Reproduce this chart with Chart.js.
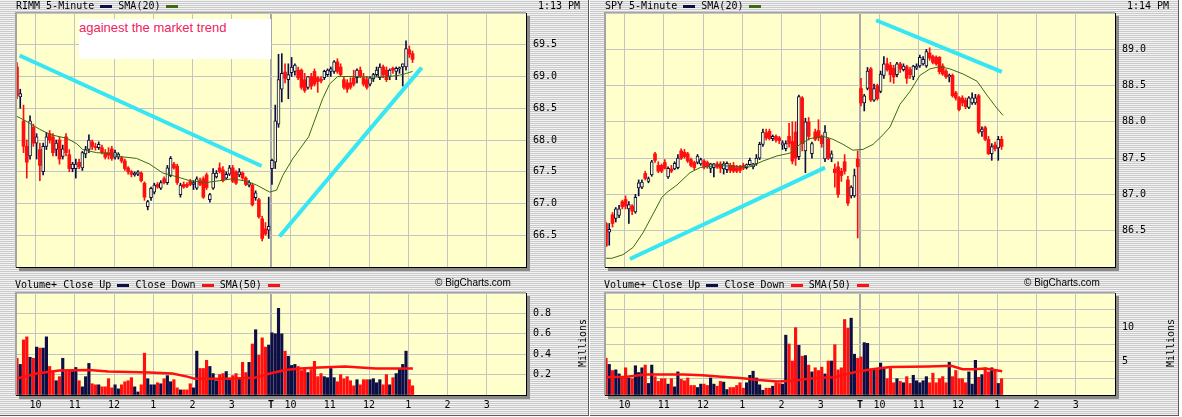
<!DOCTYPE html>
<html>
<head>
<meta charset="utf-8">
<title>RIMM / SPY 5-Minute</title>
<script src="https://cdn.jsdelivr.net/npm/chart.js@4.4.0/dist/chart.umd.min.js"></script>
<style>
  body { margin: 0; background: #fff; }
  #page { position: relative; width: 1182px; height: 417px; overflow: hidden; background: #fff; }
  .panel { position: absolute; top: 0; width: 588px; height: 415px;
           border-right: 1px solid #5c5c5c; border-bottom: 1px solid #5c5c5c;
           background: repeating-linear-gradient(to bottom, #f3f3f3 0px, #f3f3f3 1px, #c9c9c9 1px, #c9c9c9 2px); }
  .panel canvas { position: absolute; left: 0; }
  .txt { position: absolute; font: 10px "DejaVu Sans Mono", monospace; line-height: 12px; color: #000; white-space: pre; }
  .sw { display: inline-block; width: 12px; height: 3px; vertical-align: 1px; }
  .copy { position: absolute; font: 10px "Liberation Sans", Arial, sans-serif; line-height: 12px; color: #000; white-space: nowrap; }
  .mil { position: absolute; width: 60px; text-align: center; font: 10px "DejaVu Sans Mono", monospace; line-height: 12px; transform: rotate(-90deg); }
  .note { position: absolute; left: 79px; top: 19px; width: 192px; height: 40px; background: #fff; }
  .note span { position: absolute; left: 0; top: 2px; font: 13px "Liberation Sans", Arial, sans-serif; line-height: 13px; color: #f0245c; white-space: nowrap; }
</style>
</head>
<body>
<div id="page">
  <div class="panel" style="left:0">
    <canvas id="rimmPrice" width="588" height="280" style="top:0"></canvas>
    <canvas id="rimmVol" width="588" height="135" style="top:280px"></canvas>
    <div class="txt" style="left:16px;top:0">RIMM 5-Minute <i class="sw" style="background:#0e0e46"></i> SMA(20) <i class="sw" style="background:#3b6b12"></i></div>
    <div class="txt" style="left:538px;top:0">1:13 PM</div>
    <div class="note"><span>againest the market trend</span></div>
    <div class="txt" style="left:15px;top:279px">Volume+ Close Up <i class="sw" style="background:#0e0e46"></i> Close Down <i class="sw" style="background:#ff0f0f"></i> SMA(50) <i class="sw" style="background:#ff0f0f"></i></div>
    <div class="copy" style="left:435px;top:277px">© BigCharts.com</div>
    <div class="mil" style="left:553px;top:337px">Millions</div>
  </div>
  <div class="panel" style="left:590px">
    <canvas id="spyPrice" width="588" height="280" style="top:0"></canvas>
    <canvas id="spyVol" width="588" height="135" style="top:280px"></canvas>
    <div class="txt" style="left:15px;top:0">SPY 5-Minute <i class="sw" style="background:#0e0e46"></i> SMA(20) <i class="sw" style="background:#3b6b12"></i></div>
    <div class="txt" style="left:537px;top:0">1:14 PM</div>
    <div class="txt" style="left:14px;top:279px">Volume+ Close Up <i class="sw" style="background:#0e0e46"></i> Close Down <i class="sw" style="background:#ff0f0f"></i> SMA(50) <i class="sw" style="background:#ff0f0f"></i></div>
    <div class="copy" style="left:434px;top:277px">© BigCharts.com</div>
    <div class="mil" style="left:551px;top:337px">Millions</div>
  </div>
</div>
<script>
// x axis = 5-minute slots, 0 = 9:30 day 1, 78 = 9:30 day 2 ("T"), 156 = 4:00 day 2
const gridSlots = [6, 18, 30, 42, 54, 66, 78, 84, 96, 108, 120, 132, 144];
const gridLabels = ['10', '11', '12', '1', '2', '3', 'T', '10', '11', '12', '1', '2', '3'];

// RIMM candles [open, high, low, close]
const rimmBars = [
  [69.15,69.22,68.65,68.70],[68.68,68.80,68.50,68.73],[68.30,68.55,67.80,67.90],[67.90,68.00,67.40,67.65],
  [67.75,68.38,67.70,68.30],[68.20,68.25,67.90,67.95],[67.95,68.10,67.70,68.05],[67.85,67.95,67.36,67.60],
  [67.50,67.95,67.45,67.90],[67.90,68.12,67.85,68.05],[68.10,68.15,67.95,68.00],[68.05,68.10,67.75,67.80],
  [67.85,68.00,67.75,67.95],[68.00,68.05,67.62,67.70],[67.74,67.92,67.70,67.86],[68.05,68.10,67.75,67.80],
  [67.77,67.85,67.50,67.55],[67.55,67.65,67.50,67.62],[67.55,67.70,67.40,67.62],[67.65,67.70,67.55,67.58],
  [67.56,67.82,67.52,67.80],[67.78,67.90,67.72,67.85],[67.85,68.08,67.80,68.00],[67.97,68.00,67.85,67.90],
  [67.90,67.95,67.84,67.88],[67.88,67.97,67.85,67.93],[67.88,67.92,67.78,67.80],[67.80,67.85,67.70,67.73],
  [67.80,67.88,67.70,67.76],[67.86,67.90,67.68,67.71],[67.73,67.84,67.70,67.80],[67.73,67.80,67.70,67.78],
  [67.72,67.74,67.64,67.67],[67.67,67.70,67.52,67.55],[67.56,67.58,67.46,67.50],[67.50,67.52,67.42,67.46],
  [67.45,67.50,67.43,67.48],[67.46,67.52,67.44,67.50],[67.48,67.50,67.34,67.36],[67.32,67.34,67.05,67.10],
  [66.95,67.05,66.90,67.03],[67.09,67.26,67.05,67.24],[67.18,67.32,67.15,67.29],[67.30,67.33,67.24,67.26],
  [67.24,67.36,67.22,67.33],[67.39,67.42,67.31,67.33],[67.33,67.60,67.30,67.56],[67.44,67.74,67.42,67.71],
  [67.62,67.65,67.54,67.56],[67.59,67.62,67.30,67.33],[67.14,67.32,67.10,67.29],[67.30,67.34,67.24,67.26],
  [67.30,67.33,67.25,67.27],[67.35,67.38,67.28,67.30],[67.30,67.36,67.22,67.33],[67.24,67.42,67.22,67.39],
  [67.36,67.40,67.28,67.30],[67.39,67.42,67.08,67.10],[67.45,67.48,67.22,67.25],[67.06,67.16,67.02,67.14],
  [67.24,67.55,67.22,67.48],[67.42,67.52,67.40,67.48],[67.56,67.64,67.48,67.50],[67.53,67.58,67.34,67.36],
  [67.40,67.50,67.38,67.46],[67.46,67.60,67.44,67.56],[67.56,67.60,67.33,67.35],[67.50,67.52,67.30,67.32],
  [67.45,67.55,67.42,67.50],[67.48,67.50,67.38,67.40],[67.40,67.42,67.28,67.30],[67.29,67.36,67.26,67.33],
  [67.29,67.32,66.96,66.98],[67.09,67.20,67.05,67.17],[67.06,67.08,66.77,66.79],[66.76,66.80,66.41,66.45],
  [66.60,66.70,66.50,66.52],[66.58,67.10,66.45,66.64],
  // day 2
  [67.55,67.70,67.30,67.68],[67.65,68.55,67.55,68.30],[68.25,69.35,68.20,68.95],[68.80,69.36,68.60,69.05],
  [69.07,69.20,68.90,68.97],[68.95,69.20,68.65,69.03],[69.06,69.30,69.00,69.15],[69.08,69.20,69.02,69.18],
  [69.10,69.15,68.95,68.98],[69.10,69.12,68.80,68.83],[68.95,69.05,68.75,68.78],[68.83,69.00,68.80,69.00],
  [69.00,69.05,68.80,68.85],[69.08,69.12,68.85,68.88],[68.98,69.00,68.75,68.92],[68.96,69.00,68.90,68.93],
  [68.98,69.10,68.95,69.08],[69.03,69.12,69.00,69.10],[69.08,69.15,69.00,69.12],[69.08,69.25,69.05,69.23],
  [69.23,69.28,69.05,69.08],[69.15,69.20,69.00,69.03],[68.95,69.00,68.80,68.83],[68.90,68.95,68.75,68.80],
  [68.90,68.98,68.80,68.83],[68.98,69.10,68.85,68.88],[68.98,69.12,68.90,69.10],[69.10,69.15,68.98,69.00],
  [68.98,69.05,68.85,68.88],[68.95,69.00,68.80,68.83],[68.88,69.00,68.85,68.98],[68.96,69.05,68.92,69.03],
  [69.03,69.15,69.00,69.10],[68.98,69.20,68.95,69.15],[69.15,69.18,68.98,69.03],[69.10,69.15,68.92,68.95],
  [69.00,69.12,68.95,69.10],[69.13,69.15,69.05,69.10],[69.08,69.15,68.95,69.13],[69.12,69.15,69.05,69.14],
  [69.15,69.20,68.85,69.20],[69.15,69.56,69.10,69.44],[69.42,69.48,69.30,69.35],[69.36,69.40,69.22,69.27]
];
const rimmSmaX = [0, 3.0, 7.2, 10.3, 13.4, 15.5, 18.6, 20.4, 24.7, 28.7, 31.7, 36.9, 40.9, 44.9, 47.9, 53.1, 58.3, 62.3,
  66.3, 70.6, 73.6, 77.6, 79.7, 81.6, 84.6, 89.5, 93.8, 95.9, 98.4, 103.6, 108.7, 114.3, 117.3, 119.5, 121.3];
const rimmSmaY = [68.38, 68.30, 68.17, 68.09, 68.05, 68.03, 67.94, 67.85, 67.80, 67.79, 67.74, 67.71, 67.62, 67.48, 67.44,
  67.36, 67.33, 67.36, 67.39, 67.35, 67.29, 67.18, 67.21, 67.44, 67.70, 68.05, 68.65, 68.88, 69.00, 69.00, 68.99, 69.00,
  69.02, 69.05, 69.08];
const rimmVol = [
  0.36, 0.30, 0.54, 0.57, 0.37, 0.36, 0.47, 0.46, 0.46, 0.57, 0.28, 0.23, 0.14, 0.18, 0.36, 0.23, 0.24, 0.23, 0.27, 0.14,
  0.08, 0.18, 0.31, 0.11, 0.10, 0.10, 0.08, 0.08, 0.16, 0.07, 0.10, 0.06, 0.10, 0.13, 0.14, 0.17, 0.08, 0.03, 0.10, 0.41,
  0.16, 0.10, 0.10, 0.12, 0.11, 0.16, 0.19, 0.13, 0.15, 0.07, 0.05, 0.05, 0.05, 0.11, 0.07, 0.43, 0.26, 0.26, 0.34, 0.28,
  0.21, 0.14, 0.20, 0.21, 0.23, 0.15, 0.19, 0.21, 0.16, 0.32, 0.22, 0.32, 0.50, 0.64, 0.39, 0.56, 0.47, 0.49, 0.61, 0.60,
  0.85, 0.60, 0.43, 0.38, 0.29, 0.30, 0.28, 0.24, 0.26, 0.22, 0.25, 0.33, 0.18, 0.21, 0.18, 0.17, 0.26, 0.17, 0.13, 0.20,
  0.16, 0.18, 0.14, 0.09, 0.15, 0.10, 0.15, 0.15, 0.15, 0.16, 0.12, 0.15, 0.10, 0.20, 0.10, 0.17, 0.21, 0.26, 0.30, 0.43,
  0.15, 0.09
];
const rimmVolSmaX = [0, 6.3, 13.2, 22.4, 28.2, 40.8, 47.8, 52.4, 54.7, 63.9, 73, 77.7, 82.3, 86.9, 92.7, 100.7, 105.3, 110, 121.4];
const rimmVolSmaY = [0.16, 0.21, 0.24, 0.245, 0.23, 0.22, 0.21, 0.18, 0.16, 0.16, 0.17, 0.21, 0.245, 0.26, 0.27, 0.28, 0.27, 0.26, 0.26];
// hand-drawn trend lines: [start, end]
const rimmTrendX = [[1.1, 75.1], [80.6, 124.1]];
const rimmTrendY = [[69.33, 67.59], [66.48, 69.14]];

// SPY candles [open, high, low, close]
const spyBars = [
  [86.60,86.62,86.28,86.29],[86.48,86.60,86.30,86.52],[86.72,86.75,86.55,86.60],[86.67,86.82,86.62,86.80],
  [86.71,86.85,86.68,86.80],[86.90,86.92,86.80,86.83],[86.93,86.98,86.80,86.84],[86.80,86.90,86.60,86.86],
  [86.84,86.86,86.72,86.77],[86.76,87.00,86.74,86.96],[87.09,87.20,86.98,87.16],[87.10,87.20,87.08,87.17],
  [87.29,87.32,87.20,87.22],[87.18,87.24,87.16,87.22],[87.27,87.47,87.25,87.45],[87.56,87.58,87.44,87.47],
  [87.40,87.45,87.30,87.32],[87.40,87.42,87.30,87.32],[87.44,87.48,87.35,87.36],[87.24,87.38,87.22,87.36],
  [87.35,87.40,87.30,87.32],[87.35,87.45,87.34,87.43],[87.37,87.55,87.35,87.50],[87.60,87.63,87.48,87.50],
  [87.58,87.62,87.50,87.52],[87.56,87.58,87.44,87.46],[87.48,87.50,87.38,87.40],[87.44,87.46,87.34,87.37],
  [87.44,87.55,87.42,87.53],[87.42,87.50,87.40,87.48],[87.46,87.48,87.35,87.38],[87.44,87.46,87.36,87.38],
  [87.36,87.43,87.30,87.42],[87.37,87.43,87.24,87.42],[87.42,87.45,87.36,87.38],[87.42,87.45,87.30,87.36],
  [87.35,87.45,87.28,87.42],[87.34,87.45,87.30,87.43],[87.40,87.43,87.30,87.33],[87.40,87.44,87.30,87.32],
  [87.37,87.40,87.30,87.32],[87.38,87.40,87.30,87.33],[87.40,87.43,87.34,87.36],[87.37,87.42,87.35,87.41],
  [87.41,87.50,87.40,87.47],[87.38,87.43,87.35,87.42],[87.42,87.55,87.40,87.50],[87.50,87.72,87.48,87.69],
  [87.69,87.90,87.66,87.86],[87.85,87.90,87.75,87.78],[87.87,87.90,87.75,87.77],[87.77,87.82,87.74,87.80],
  [87.80,87.82,87.72,87.75],[87.78,87.80,87.70,87.74],[87.68,87.74,87.62,87.71],[87.63,87.74,87.60,87.70],
  [87.80,87.98,87.65,87.70],[87.73,88.00,87.42,87.46],[87.86,88.00,87.40,87.50],[87.52,88.37,87.48,88.35],
  [88.33,88.35,87.60,87.70],[87.60,88.05,87.30,88.00],[88.00,88.06,87.75,87.80],[87.56,87.72,87.50,87.70],
  [87.86,87.90,87.74,87.76],[87.88,88.03,87.74,87.78],[87.80,87.82,87.65,87.70],[87.49,87.95,87.45,87.86],
  [87.76,87.78,87.48,87.50],[87.50,87.60,87.45,87.56],[87.35,87.42,87.10,87.30],[87.38,87.45,86.96,87.00],
  [87.32,87.36,87.18,87.26],[87.45,87.55,87.28,87.32],[87.20,87.25,86.85,86.88],[86.98,87.12,86.95,87.10],
  [86.98,87.35,86.96,87.26],[87.49,87.60,86.40,87.38],
  // day 2
  [88.46,88.60,88.22,88.26],[88.26,88.38,88.15,88.36],[88.46,88.75,88.44,88.70],[88.73,88.75,88.28,88.30],
  [88.30,88.52,88.28,88.46],[88.50,88.52,88.30,88.32],[88.42,88.70,88.40,88.66],[88.64,88.90,88.60,88.80],
  [88.80,88.88,88.70,88.72],[88.78,88.82,88.55,88.65],[88.74,88.78,88.53,88.62],[88.65,88.82,88.62,88.80],
  [88.80,88.82,88.68,88.73],[88.72,88.80,88.70,88.77],[88.76,88.78,88.53,88.60],[88.72,88.75,88.60,88.65],
  [88.62,88.78,88.58,88.77],[88.74,88.80,88.72,88.77],[88.77,88.92,88.75,88.89],[88.80,88.90,88.78,88.86],
  [88.77,89.00,88.75,88.97],[88.95,89.02,88.85,88.88],[88.90,88.92,88.80,88.82],[88.89,88.91,88.78,88.80],
  [88.89,88.90,88.66,88.69],[88.77,88.80,88.64,88.66],[88.70,88.72,88.60,88.62],[88.62,88.66,88.55,88.64],
  [88.64,88.66,88.34,88.36],[88.40,88.42,88.30,88.33],[88.33,88.35,88.15,88.17],[88.33,88.36,88.22,88.26],
  [88.30,88.33,88.18,88.21],[88.20,88.35,88.18,88.33],[88.26,88.40,88.24,88.33],[88.26,88.38,88.24,88.33],
  [88.36,88.38,87.84,87.86],[87.86,87.93,87.80,87.90],[87.92,87.94,87.74,87.76],[87.76,87.80,87.55,87.56],
  [87.56,87.70,87.47,87.66],[87.68,87.72,87.60,87.63],[87.64,87.80,87.47,87.76],[87.76,87.80,87.62,87.66]
];
const spySmaX = [0, 2.1, 5.5, 8.6, 11.6, 14.7, 17.4, 19.0, 22.0, 26.0, 29.1, 34.3, 38.2, 44.3, 48.3, 52.6, 56.6, 59.6, 62.7,
  66.7, 69.7, 72.8, 75.8, 78.9, 82.0, 85.0, 87.2, 90.2, 93.3, 96.3, 99.4, 102.4, 105.5, 109.5, 113.8, 116.8, 119.3, 121.7];
const spySmaY = [86.12, 86.12, 86.17, 86.27, 86.47, 86.73, 86.96, 87.03, 87.13, 87.30, 87.37, 87.40, 87.39, 87.38, 87.46,
  87.53, 87.57, 87.69, 87.77, 87.80, 87.76, 87.69, 87.61, 87.62, 87.69, 87.82, 87.93, 88.24, 88.42, 88.64, 88.73, 88.76,
  88.73, 88.66, 88.56, 88.37, 88.22, 88.09];
const spyVol = [
  5.4, 4.5, 3.6, 3.7, 3.1, 2.5, 4.0, 2.5, 2.4, 4.3, 3.3, 4.0, 4.4, 1.7, 4.4, 2.7, 2.0, 2.4, 2.4, 1.6,
  2.4, 1.2, 3.4, 2.3, 2.1, 2.5, 1.4, 1.4, 1.1, 1.6, 1.6, 1.4, 2.5, 1.6, 1.3, 2.0, 1.9, 0.8, 1.1, 1.1,
  1.4, 1.8, 1.0, 1.8, 2.9, 3.5, 2.5, 1.5, 0.7, 1.0, 1.0, 1.3, 1.8, 1.7, 1.6, 8.8, 7.5, 5.0, 9.9, 7.3,
  5.7, 5.8, 4.4, 3.4, 4.0, 3.6, 4.1, 3.1, 5.0, 5.0, 7.4, 3.7, 4.0, 11.1, 9.8, 11.3, 6.0, 5.4, 5.6, 7.7,
  7.6, 3.7, 3.7, 3.7, 4.7, 4.0, 2.4, 3.9, 1.8, 2.4, 2.0, 1.8, 2.7, 1.7, 2.9, 2.1, 1.8, 2.1, 2.7, 1.8,
  3.2, 1.8, 2.4, 2.7, 1.8, 4.8, 2.7, 3.6, 2.4, 2.4, 1.8, 3.4, 1.6, 5.1, 2.6, 3.0, 4.0, 3.4, 4.0, 3.5,
  1.7, 2.4
];
const spyVolSmaX = [0, 6.6, 12.4, 18.2, 24, 29.8, 35.5, 41.3, 47.1, 52.8, 57.4, 64.4, 70.2, 75.9, 80.6, 85.2, 87.5, 99,
  105.9, 109.4, 112.8, 116.3, 121.5];
const spyVolSmaY = [2.6, 2.7, 3.0, 3.0, 3.0, 2.9, 2.7, 2.5, 2.2, 2.0, 2.1, 2.5, 2.6, 3.3, 3.7, 4.0, 4.1, 4.2, 4.3, 3.8, 3.8, 3.9, 3.5];
const spyTrendX = [[7.6, 67.3], [82.9, 121.4]];
const spyTrendY = [[86.11, 87.37], [89.40, 88.69]];

const NAVY = '#0e0e46', RED = '#ff0f0f', OLIVE = '#3b6b12', CYAN = '#36e6f4';
const PLOT_BG = '#ffffcc', GRID = '#c4c4c4';
const MONO = { family: "'DejaVu Sans Mono', monospace", size: 10 };

// yellow plot background, then dark frame with drop shadow
const plotFrame = {
  id: 'plotFrame',
  beforeDraw(chart) {
    const a = chart.chartArea, g = chart.ctx;
    g.save();
    g.fillStyle = PLOT_BG;
    g.fillRect(a.left, a.top, a.right - a.left, a.bottom - a.top);
    g.restore();
  },
  afterDraw(chart) {
    const a = chart.chartArea, g = chart.ctx;
    g.save();
    g.fillStyle = '#8a8a8a';
    g.fillRect(a.right + 1, a.top + 3, 3, a.bottom - a.top + 1);
    g.fillRect(a.left + 3, a.bottom + 1, a.right - a.left + 1, 3);
    g.fillStyle = '#000';
    g.fillRect(a.right, a.top, 1, a.bottom - a.top + 1);
    g.fillRect(a.left, a.bottom, a.right - a.left + 1, 1);
    g.fillStyle = '#a4a4a4';
    g.fillRect(a.left - 1, a.top - 1, 2, a.bottom - a.top + 1);
    g.fillRect(a.left - 1, a.top - 1, a.right - a.left + 1, 1);
    g.restore();
  }
};

function xScale(showLabels) {
  const isT = c => c.tick && c.tick.value === 78;
  return {
    type: 'linear', min: 0, max: 156, offset: false,
    afterBuildTicks: s => { s.ticks = gridSlots.map(v => ({ value: v })); },
    grid: { color: c => isT(c) ? '#a8a8a8' : GRID, lineWidth: c => isT(c) ? 2 : 1, drawTicks: false, offset: false },
    border: { display: false },
    ticks: showLabels ? {
      autoSkip: false, maxRotation: 0, padding: 4, color: '#000',
      font: c => ({ ...MONO, weight: isT(c) ? 'bold' : 'normal' }),
      callback: (v, i) => gridLabels[i]
    } : { display: false },
    afterFit: s => { s.height = showLabels ? 20 : 0; }
  };
}

function yScale(min, max, step, width, fmt) {
  return {
    position: 'right', min, max,
    ticks: { stepSize: step, color: '#000', font: MONO, padding: 7, callback: fmt },
    grid: { color: GRID, drawTicks: false },
    border: { display: false },
    afterFit: s => { s.width = width; }
  };
}

function baseOptions(padLeft, padTop, padBottom, scales) {
  return {
    responsive: false, animation: false, events: [],
    layout: { padding: { left: padLeft, top: padTop, right: 0, bottom: padBottom } },
    plugins: { legend: { display: false }, tooltip: { enabled: false } },
    scales
  };
}

function drawPrice(id, bars, smaX, smaY, trendX, trendY, yMin, yMax, padLeft) {
  const up = bars.map(b => b[3] >= b[0]);
  const trends = trendX.map((tx, k) => ({
    type: 'line', data: tx.map((x, j) => ({ x, y: trendY[k][j] })),
    borderColor: CYAN, borderWidth: 4, pointRadius: 0, order: 1
  }));
  new Chart(document.getElementById(id), {
    type: 'bar',
    data: {
      datasets: [
        { data: bars.map((b, i) => ({ x: i + 0.3, y: [b[2], b[1]] })), backgroundColor: up.map(u => u ? NAVY : RED),
          barThickness: 1, grouped: false, order: 5 },
        { data: bars.map((b, i) => ({ x: i + 0.3, y: [b[0], b[3]] })), backgroundColor: up.map(u => u ? PLOT_BG : RED),
          borderColor: up.map(u => u ? NAVY : RED), borderWidth: up.map(u => u ? 1 : 0), borderSkipped: false,
          barThickness: 3, minBarLength: 1, grouped: false, order: 4 },
        { type: 'line', data: smaX.map((x, i) => ({ x, y: smaY[i] })), borderColor: OLIVE, borderWidth: 1,
          pointRadius: 0, order: 2 },
        ...trends
      ]
    },
    options: baseOptions(padLeft, 12, 5, {
      x: xScale(false),
      y: yScale(yMin, yMax, 0.5, 588 - padLeft - 510, v => (v > yMin && v < yMax) ? v.toFixed(1) : '')
    }),
    plugins: [plotFrame]
  });
}

function drawVolume(id, vols, bars, smaX, smaY, yMax, step, fmt, padLeft) {
  new Chart(document.getElementById(id), {
    type: 'bar',
    data: {
      datasets: [
        { data: vols.map((v, i) => ({ x: i + 0.3, y: v })),
          backgroundColor: vols.map((v, i) => (bars[i] && bars[i][3] >= bars[i][0]) ? NAVY : RED),
          barThickness: 2.5, grouped: false, order: 3 },
        { type: 'line', data: smaX.map((x, i) => ({ x, y: smaY[i] })), borderColor: RED, borderWidth: 2.5,
          pointRadius: 0, order: 1 }
      ]
    },
    options: baseOptions(padLeft, 11, 0, {
      x: xScale(true),
      y: yScale(0, yMax, step, 588 - padLeft - 510, fmt)
    }),
    plugins: [plotFrame]
  });
}

drawPrice('rimmPrice', rimmBars, rimmSmaX, rimmSmaY, rimmTrendX, rimmTrendY, 66, 70, 16);
drawVolume('rimmVol', rimmVol, rimmBars, rimmVolSmaX, rimmVolSmaY, 1.0, 0.2,
  v => (v > 0.05 && v < 0.95) ? v.toFixed(1) : '', 16);
drawPrice('spyPrice', spyBars, spySmaX, spySmaY, spyTrendX, spyTrendY, 86, 89.5, 15);
drawVolume('spyVol', spyVol, spyBars, spyVolSmaX, spyVolSmaY, 15, 2.5,
  v => (Math.abs(v - 5) < 0.01 || Math.abs(v - 10) < 0.01) ? String(Math.round(v)) : '', 15);
</script>
</body>
</html>
